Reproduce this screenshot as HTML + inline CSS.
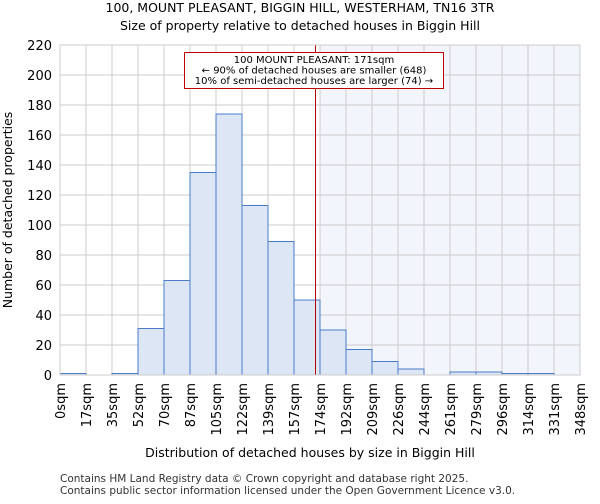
<!DOCTYPE html>
<html><head><meta charset="utf-8"><style>
body{margin:0;background:#fff;font-family:"DejaVu Sans","Liberation Sans",sans-serif}
svg text{font-family:"DejaVu Sans","Liberation Sans",sans-serif}
</style></head><body>
<svg id="chart" width="600" height="500" xmlns="http://www.w3.org/2000/svg">
<text x="300" y="12" text-anchor="middle" font-size="12.5">100, MOUNT PLEASANT, BIGGIN HILL, WESTERHAM, TN16 3TR</text>
<text x="300" y="30" text-anchor="middle" font-size="12.5">Size of property relative to detached houses in Biggin Hill</text>
<g id="plot"></g>
<text x="310" y="457" text-anchor="middle" font-size="12.5">Distribution of detached houses by size in Biggin Hill</text>
<text transform="translate(12,210) rotate(-90)" text-anchor="middle" font-size="12.5">Number of detached properties</text>
<text x="60" y="482" font-size="10.5" fill="#333">Contains HM Land Registry data © Crown copyright and database right 2025.</text>
<text x="60" y="494" font-size="10.5" fill="#333">Contains public sector information licensed under the Open Government Licence v3.0.</text>
</svg>
<script>
const binLabels=["0sqm","17sqm","35sqm","52sqm","70sqm","87sqm","105sqm","122sqm","139sqm","157sqm","174sqm","192sqm","209sqm","226sqm","244sqm","261sqm","279sqm","296sqm","314sqm","331sqm","348sqm"];
const counts=[1,0,1,31,63,135,174,113,89,50,30,17,9,4,0,2,2,1,1,0];
const yTicks=[0,20,40,60,80,100,120,140,160,180,200,220];
const propertySize=171;
const maxSqm=348;
const L=60,R=580,T=45,B=375,yMax=220;
const NS="http://www.w3.org/2000/svg";
const g=document.getElementById('plot');
const bw=(R-L)/counts.length;
const xb=i=>L+i*bw;
const xs=v=>L+v/maxSqm*(R-L);
const ys=v=>B-v/yMax*(B-T);
function mk(t,a){const e=document.createElementNS(NS,t);for(const k in a)e.setAttribute(k,a[k]);g.appendChild(e);return e;}
const shadeStart=xb(Math.ceil(propertySize/(maxSqm/counts.length)));
let e=mk('rect',{x:shadeStart,y:T,width:R-shadeStart,height:B-T,fill:'#f3f5fc'});


for(let i=0;i<=counts.length;i++){e=mk('line',{x1:xb(i),x2:xb(i),y1:T,y2:B,stroke:'#cccccc','stroke-width':1});

}
yTicks.forEach(v=>{e=mk('line',{x1:L,x2:R,y1:ys(v),y2:ys(v),stroke:'#cccccc','stroke-width':1});


e=mk('text',{x:L-8,y:ys(v)+5,'text-anchor':'end','font-size':'13'});e.textContent=v;

});
counts.forEach((c,i)=>{if(c<=0)return;e=mk('rect',{x:xb(i),y:ys(c),width:bw,height:B-ys(c),fill:'#dce6f5',stroke:'#4a7cc9','stroke-width':1});

});
binLabels.forEach((l,i)=>{const x=xb(i);e=mk('text',{transform:`translate(${x+5},383) rotate(-90)`,'text-anchor':'end','font-size':'13'});e.textContent=l;

});
e=mk('line',{x1:xs(propertySize),x2:xs(propertySize),y1:T,y2:B,stroke:'#b00000','stroke-width':1});


e=mk('rect',{x:L,y:T,width:R-L,height:B-T,fill:'none',stroke:'#cccccc'});


e=mk('rect',{x:184.5,y:52.5,width:259,height:36,fill:'#fff',stroke:'#c00000','stroke-width':1});


["100 MOUNT PLEASANT: 171sqm","← 90% of detached houses are smaller (648)","10% of semi-detached houses are larger (74) →"].forEach((t,i)=>{
e=mk('text',{x:314,y:63+i*10.5,'text-anchor':'middle','font-size':'10'});e.textContent=t;

});
</script>
</body></html>
